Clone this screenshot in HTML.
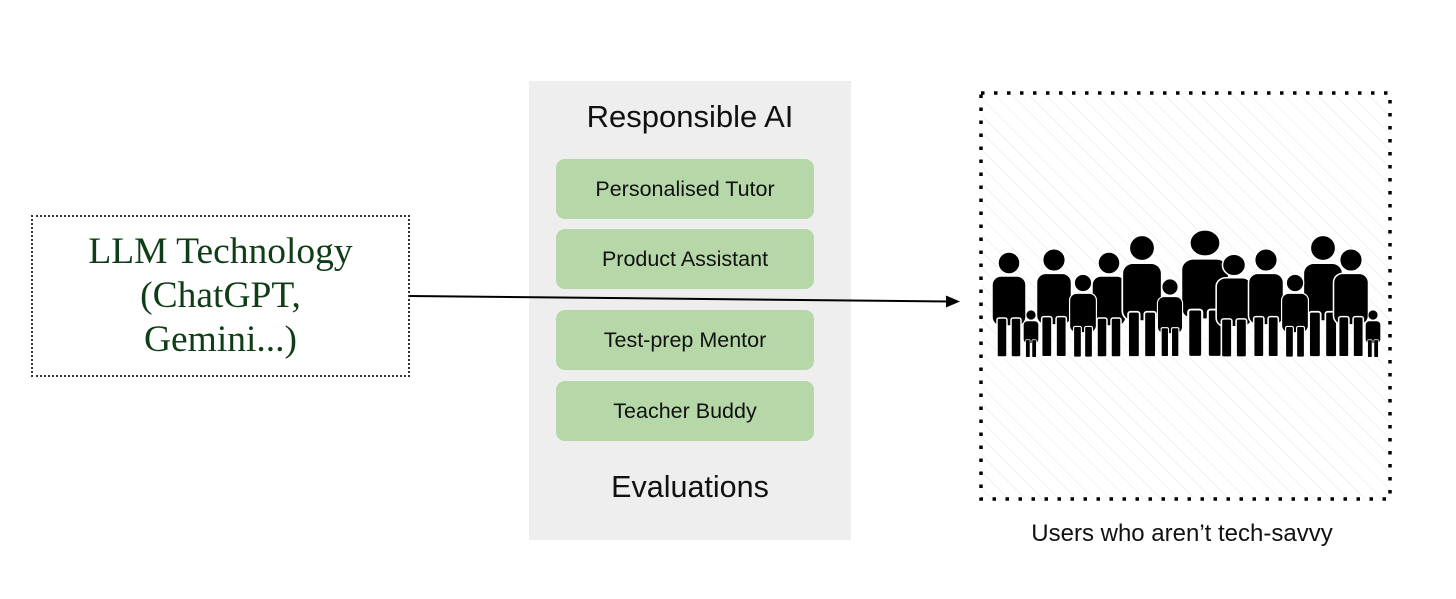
<!DOCTYPE html>
<html><head><meta charset="utf-8"><style>
html,body{margin:0;padding:0;background:#fff;}
body{width:1456px;height:599px;position:relative;overflow:hidden;font-family:"Liberation Sans",Arial,sans-serif;}
.abs{position:absolute;}
.panel{left:529px;top:81px;width:322px;height:459px;background:#eeeeee;}
.btn{position:absolute;left:556px;width:258px;height:60px;background:#b6d7a8;border-radius:9px;font-size:21.5px;color:#111;display:flex;align-items:center;justify-content:center;}
.llm{left:31px;top:215px;width:379px;height:162px;border:2px dotted #333;box-sizing:border-box;}
.llmt{left:31px;top:230px;width:379px;text-align:center;font-family:"Liberation Serif",serif;font-size:37.5px;line-height:44px;color:#0f3d17;}
</style></head><body>
<div class="abs panel"></div>
<div class="abs" style="left:529px;width:322px;top:99px;text-align:center;font-size:31px;color:#111;">Responsible AI</div>
<div class="btn" style="top:159px">Personalised Tutor</div>
<div class="btn" style="top:229px">Product Assistant</div>
<div class="btn" style="top:310px">Test-prep Mentor</div>
<div class="btn" style="top:381px">Teacher Buddy</div>
<div class="abs" style="left:529px;width:322px;top:470px;text-align:center;font-size:30.5px;color:#111;">Evaluations</div>
<div class="abs llm"></div>
<div class="abs llmt">LLM Technology<br>(ChatGPT,<br>Gemini...)</div>
<div class="abs" style="left:980px;width:404px;top:520px;text-align:center;font-size:24px;color:#111;">Users who aren’t tech-savvy</div>
<svg class="abs" style="left:0;top:0" width="1456" height="599">
<defs>
<pattern id="h" width="12" height="12" patternUnits="userSpaceOnUse" patternTransform="rotate(-45)">
<line x1="0" y1="0" x2="0" y2="12" stroke="#ececec" stroke-width="1.5"/></pattern>
<g id="p">
<circle cx="0" cy="0" r="11"/>
<rect x="-17" y="13" width="34" height="50" rx="9"/>
<rect x="-12" y="55" width="10" height="39" rx="2"/>
<rect x="2" y="55" width="10" height="39" rx="2"/>
</g>
</defs>
<rect x="981" y="93" width="409" height="406" fill="url(#h)"/>
<rect x="981" y="93" width="409" height="406" fill="none" stroke="#000" stroke-width="3.5" stroke-dasharray="3.5 9.5"/>
<line x1="410" y1="296" x2="948" y2="301.5" stroke="#000" stroke-width="2"/>
<polygon points="960,301.5 946,295.5 946,307.5" fill="#000"/>
<g fill="#000" stroke="#fff" stroke-width="1.5">
<use href="#p" transform="translate(1009,263) scale(1)"/>
<use href="#p" transform="translate(1054,260) scale(1.03)"/>
<use href="#p" transform="translate(1031,315) scale(0.45)"/>
<use href="#p" transform="translate(1109,263) scale(1)"/>
<use href="#p" transform="translate(1083,283) scale(0.79)"/>
<use href="#p" transform="translate(1142,248) scale(1.16)"/>
<use href="#p" transform="translate(1205,243) scale(1.4,1.21)"/>
<use href="#p" transform="translate(1170,287) scale(0.74)"/>
<use href="#p" transform="translate(1234,265) scale(1.05,0.98)"/>
<use href="#p" transform="translate(1266,260) scale(1.03)"/>
<use href="#p" transform="translate(1323,248) scale(1.16)"/>
<use href="#p" transform="translate(1295,283) scale(0.79)"/>
<use href="#p" transform="translate(1351,260) scale(1.03)"/>
<use href="#p" transform="translate(1373,315) scale(0.45)"/>
</g>
</svg>
</body></html>
